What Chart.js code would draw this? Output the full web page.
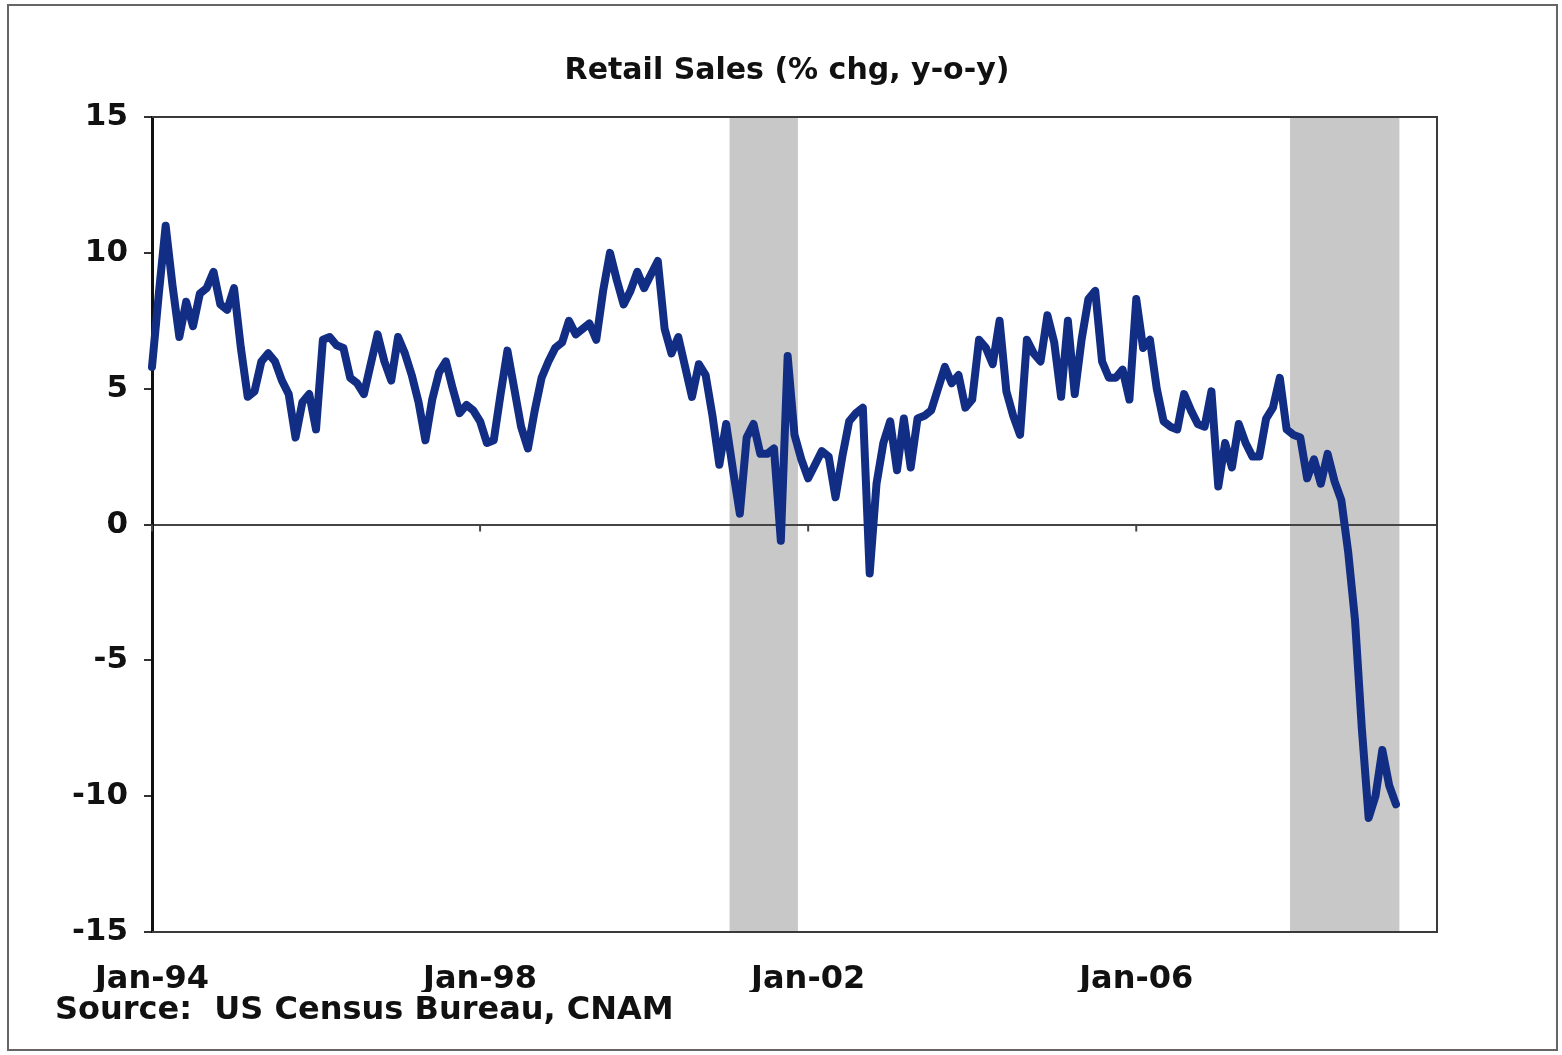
<!DOCTYPE html>
<html>
<head>
<meta charset="utf-8">
<script src="https://cdn.jsdelivr.net/npm/chart.js@4.4.0/dist/chart.umd.min.js"></script>
<style>
  html, body { margin: 0; padding: 0; background: #fff; }
  #wrap { width: 1562px; height: 1055px; }
</style>
</head>
<body>
<div id="wrap"><canvas id="retailChart" width="1562" height="1055"></canvas></div>
<script>
// month labels Jan-94 .. Sep-09 (axis runs a bit past the last point)
const monthNames = ["Jan","Feb","Mar","Apr","May","Jun","Jul","Aug","Sep","Oct","Nov","Dec"];
const months = [];
for (let y = 1994; y <= 2009; y++) {
    for (let m = 0; m < 12; m++) {
        if (y === 2009 && m > 8) break;
        months.push(monthNames[m] + "-" + String(y).slice(2));
    }
}

// retail sales, % chg y-o-y, monthly from Jan-94
const retailSales = [
    5.8, 8.5, 11.0, 8.8, 6.9, 8.2, 7.3, 8.5, 8.7, 9.3, 8.1, 7.9,
    8.7, 6.5, 4.7, 4.9, 6.0, 6.3, 6.0, 5.3, 4.8, 3.2, 4.5, 4.8,
    3.5, 6.8, 6.9, 6.6, 6.5, 5.4, 5.2, 4.8, 5.9, 7.0, 6.0, 5.3,
    6.9, 6.3, 5.5, 4.5, 3.1, 4.6, 5.6, 6.0, 5.0, 4.1, 4.4, 4.2,
    3.8, 3.0, 3.1, 4.8, 6.4, 5.0, 3.6, 2.8, 4.2, 5.4, 6.0, 6.5,
    6.7, 7.5, 7.0, 7.2, 7.4, 6.8, 8.6, 10.0, 9.0, 8.1, 8.6, 9.3,
    8.7, 9.2, 9.7, 7.2, 6.3, 6.9, 5.8, 4.7, 5.9, 5.5, 4.0, 2.2,
    3.7, 2.0, 0.4, 3.2, 3.7, 2.6, 2.6, 2.8, -0.6, 6.2, 3.3, 2.4,
    1.7, 2.2, 2.7, 2.5, 1.0, 2.5, 3.8, 4.1, 4.3, -1.8, 1.5, 3.0,
    3.8, 2.0, 3.9, 2.1, 3.9, 4.0, 4.2, 5.0, 5.8, 5.2, 5.5, 4.3,
    4.6, 6.8, 6.5, 5.9, 7.5, 4.9, 4.0, 3.3, 6.8, 6.3, 6.0, 7.7,
    6.7, 4.7, 7.5, 4.8, 6.8, 8.3, 8.6, 6.0, 5.4, 5.4, 5.7, 4.6,
    8.3, 6.5, 6.8, 5.0, 3.8, 3.6, 3.5, 4.8, 4.2, 3.7, 3.6, 4.9,
    1.4, 3.0, 2.1, 3.7, 3.0, 2.5, 2.5, 3.9, 4.3, 5.4, 3.5, 3.3,
    3.2, 1.7, 2.4, 1.5, 2.6, 1.6, 0.9, -1.0, -3.5, -7.5, -10.8, -10.0,
    -8.3, -9.6, -10.3
];

// recession bands (first and last shaded month)
const recessionStart = ["Feb-01", "Dec-07"];
const recessionEnd = ["Nov-01", "Mar-09"];

const xTickLabels = ["Jan-94", "Jan-98", "Jan-02", "Jan-06"];
const yTicks = [-15, -10, -5, 0, 5, 10, 15];

const FONT = "'DejaVu Sans', 'Liberation Sans', Arial, sans-serif";

const decorPlugin = {
    id: "decor",
    beforeDraw(chart) {
        const { ctx, chartArea: a, scales: { x } } = chart;
        ctx.save();
        ctx.fillStyle = "#fff";
        ctx.fillRect(0, 0, chart.width, chart.height);
        // recession shading
        ctx.fillStyle = "#c8c8c8";
        recessionStart.forEach((s, i) => {
            const x0 = x.getPixelForValue(months.indexOf(s) - 0.5);
            const x1 = x.getPixelForValue(months.indexOf(recessionEnd[i]) + 0.5);
            ctx.fillRect(x0, a.top, x1 - x0, a.bottom - a.top);
        });
        ctx.restore();
    },
    afterDatasetsDraw(chart) {
        const { ctx, chartArea: a, scales: { x, y } } = chart;
        ctx.save();
        // plot box (top, right, bottom)
        ctx.strokeStyle = "#3a3a3a";
        ctx.lineWidth = 2;
        ctx.beginPath();
        ctx.moveTo(a.left, a.top);
        ctx.lineTo(a.right, a.top);
        ctx.lineTo(a.right, a.bottom);
        ctx.lineTo(a.left, a.bottom);
        ctx.stroke();
        // small tick marks on the zero line
        const y0 = y.getPixelForValue(0);
        ctx.lineWidth = 2;
        ctx.strokeStyle = "#444";
        xTickLabels.forEach(l => {
            const px = x.getPixelForValue(months.indexOf(l));
            ctx.beginPath();
            ctx.moveTo(px, y0);
            ctx.lineTo(px, y0 + 7);
            ctx.stroke();
        });
        ctx.restore();
    },
    afterDraw(chart) {
        const { ctx } = chart;
        ctx.save();
        // title
        ctx.fillStyle = "#111";
        ctx.font = "bold 30px " + FONT;
        ctx.textAlign = "center";
        ctx.textBaseline = "middle";
        ctx.fillText("Retail Sales (% chg, y-o-y)", 787, 71);
        // source
        ctx.font = "bold 32px " + FONT;
        ctx.textAlign = "left";
        ctx.fillText("Source:  US Census Bureau, CNAM", 55, 1011);
        // outer frame
        ctx.strokeStyle = "#666";
        ctx.lineWidth = 2;
        ctx.strokeRect(8, 5, 1549, 1045);
        ctx.restore();
    }
};

new Chart(document.getElementById("retailChart"), {
    type: "line",
    data: {
        labels: months,
        datasets: [{
            data: retailSales,
            borderColor: "#122d84",
            borderWidth: 8,
            pointRadius: 0,
            tension: 0,
            borderJoinStyle: "round",
            borderCapStyle: "round",
            fill: false
        }]
    },
    options: {
        responsive: false,
        animation: false,
        layout: { padding: { top: 117, right: 125, bottom: 63, left: 0 } },
        plugins: { legend: { display: false }, title: { display: false }, tooltip: { enabled: false } },
        scales: {
            x: {
                type: "category",
                offset: false,
                grid: { display: false, drawTicks: false },
                border: { display: false },
                afterFit: s => { s.height = 60; },
                ticks: {
                    autoSkip: false,
                    maxRotation: 0,
                    padding: 28,
                    color: "#111",
                    font: { family: FONT, size: 32, weight: "bold" },
                    callback: (v, i) => xTickLabels.includes(months[i]) ? months[i] : null
                }
            },
            y: {
                min: -15,
                max: 15,
                afterFit: s => { s.width = 152; },
                afterBuildTicks: s => { s.ticks = yTicks.map(v => ({ value: v })); },
                border: { display: true, color: "#111", width: 3 },
                grid: {
                    color: c => c.tick && c.tick.value === 0 ? "#444" : "rgba(0,0,0,0)",
                    lineWidth: 2,
                    drawTicks: true,
                    tickLength: 8,
                    tickColor: "#333",
                    tickWidth: 2
                },
                ticks: {
                    padding: 16,
                    color: "#111",
                    font: { family: FONT, size: 31, weight: "bold" }
                }
            }
        }
    },
    plugins: [decorPlugin]
});
</script>
</body>
</html>
